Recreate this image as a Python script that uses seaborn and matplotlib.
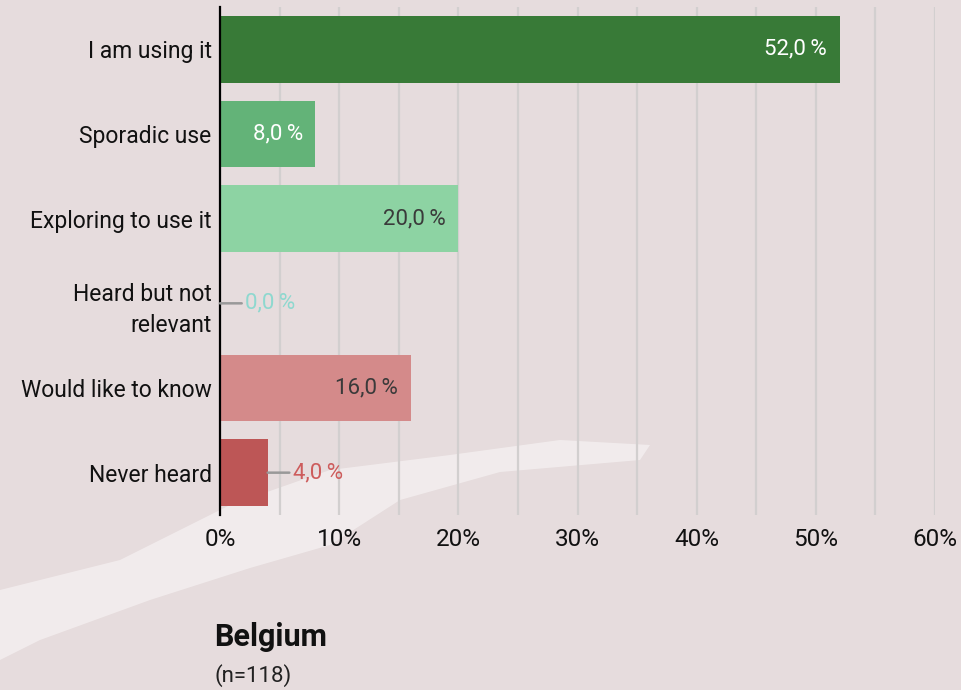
import matplotlib
matplotlib.use("Agg")
import matplotlib.pyplot as plt
import seaborn as sns
import pandas as pd
from matplotlib.patches import Polygon
from matplotlib.ticker import MultipleLocator, FuncFormatter

# -----------------------------
# Data
# -----------------------------
categories = [
    "I am using it",
    "Sporadic use",
    "Exploring to use it",
    "Heard but not\nrelevant",
    "Would like to know",
    "Never heard",
]
values = [52.0, 8.0, 20.0, 0.0, 16.0, 4.0]
bar_colors = ["#387A37", "#63B378", "#8DD3A3", "#8DD9CC", "#D48A8A", "#BD5656"]
label_colors = ["#FFFFFF", "#FFFFFF", "#3A3A3A", "#8ED8CF", "#3A3A3A", "#CD5C5C"]
title = "Belgium"
subtitle = "(n=118)"

df = pd.DataFrame({"category": categories, "value": values})

BG = "#E6DCDD"
W, H = 961, 690

sns.set_style("white")
plt.rcParams["font.family"] = ["Roboto", "DejaVu Sans"]

fig = plt.figure(figsize=(W / 100, H / 100), dpi=100, facecolor=BG)

# -----------------------------
# Background: soft light streak (decoration only)
# -----------------------------
swoosh = [(0, 590), (120, 560), (230, 505), (330, 470), (450, 455), (560, 440),
          (650, 445), (640, 460), (500, 472), (400, 500), (330, 545), (250, 568),
          (150, 600), (40, 640), (0, 660)]
fig.add_artist(Polygon([(x / W, 1 - y / H) for x, y in swoosh], closed=True,
                       transform=fig.transFigure, facecolor="white",
                       edgecolor="none", alpha=0.45, zorder=0))

# -----------------------------
# Bars
# -----------------------------
ax = fig.add_axes([220 / W, 1 - 515 / H, 715 / W, 508 / H])
ax.set_facecolor("none")

sns.barplot(data=df, x="value", y="category", hue="category",
            palette=bar_colors, orient="h", width=0.79, legend=False,
            saturation=1, linewidth=0, ax=ax, zorder=3)

ax.set_xlim(0, 60)
ax.xaxis.set_major_locator(MultipleLocator(10))
ax.xaxis.set_minor_locator(MultipleLocator(5))
ax.xaxis.set_major_formatter(FuncFormatter(lambda v, p: f"{v:.0f}%"))
ax.grid(axis="x", which="both", color="#D2CFCF", linewidth=1.6, zorder=0)
ax.set_axisbelow(True)

for s in ["top", "right", "bottom"]:
    ax.spines[s].set_visible(False)
ax.spines["left"].set_color("black")
ax.spines["left"].set_linewidth(1.6)
ax.spines["left"].set_zorder(5)

ax.tick_params(axis="x", which="both", length=0, pad=9, labelsize=17.5,
               labelcolor="#111111")
ax.tick_params(axis="y", length=0, pad=6, labelsize=16.5, labelcolor="#111111")
for lbl in ax.get_yticklabels():
    lbl.set_linespacing(1.45)
ax.set_xlabel("")
ax.set_ylabel("")

# -----------------------------
# Value labels
# -----------------------------
for i, (v, c) in enumerate(zip(values, label_colors)):
    txt = f"{v:.1f}".replace(".", ",") + "\u2009%"
    if v >= 5:
        ax.annotate(txt, xy=(v, i), xytext=(-9, 0), textcoords="offset points",
                    ha="right", va="center", fontsize=16, color=c, zorder=6)
    else:
        ax.annotate(txt, xy=(v, i), xytext=(18, 0), textcoords="offset points",
                    ha="left", va="center", fontsize=16, color=c, zorder=6,
                    arrowprops=dict(arrowstyle="-", color="#999999", lw=1.8,
                                    shrinkA=0, shrinkB=0))

# -----------------------------
# Title
# -----------------------------
fig.text(214 / W, 1 - 637 / H, title, fontsize=22, fontweight="bold",
         color="#111111", va="center", ha="left")
fig.text(214 / W, 1 - 676 / H, subtitle, fontsize=16, color="#222222",
         va="center", ha="left")

fig.savefig("out.png", dpi=100, facecolor=BG)
